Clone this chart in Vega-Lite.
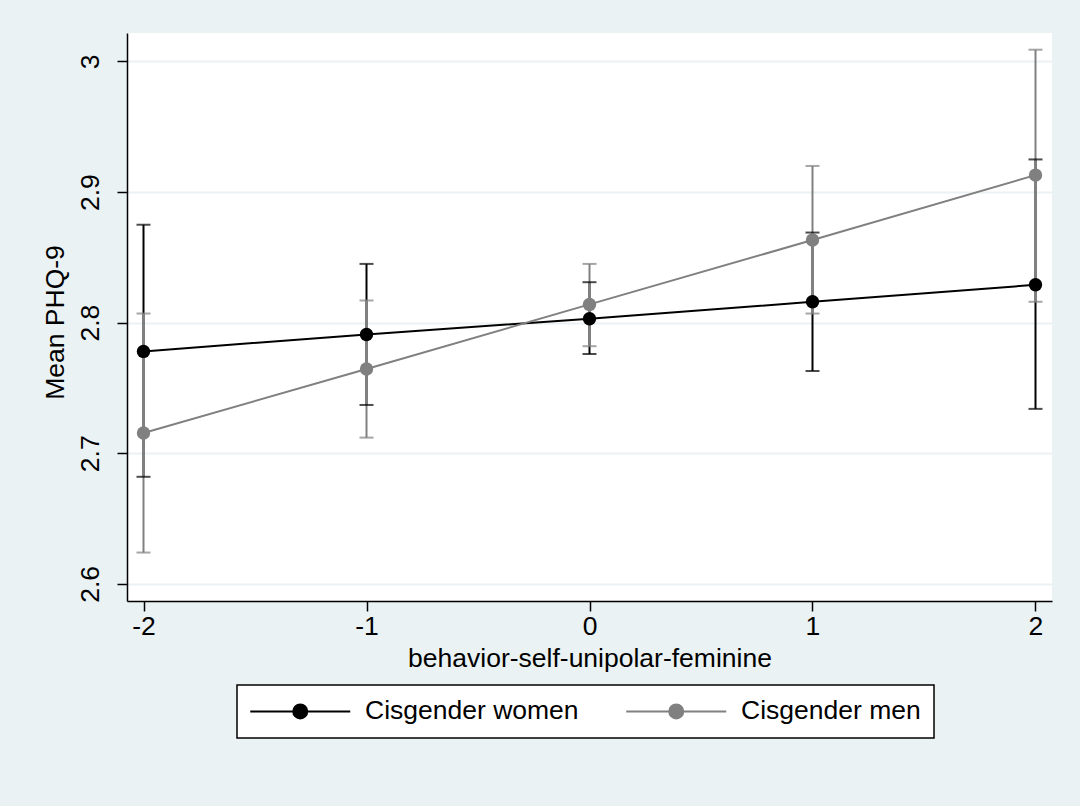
{
  "$schema": "https://vega.github.io/schema/vega-lite/v6.json",
  "width": 925,
  "height": 568,
  "autosize": {"type": "none"},
  "padding": {"left": 127, "top": 33, "right": 28, "bottom": 205},
  "background": "#EAF2F3",
  "config": {
    "view": {"fill": "white", "stroke": null},
    "font": "Liberation Sans",
    "axis": {
      "domainColor": "black",
      "domainWidth": 1.5,
      "tickColor": "black",
      "tickWidth": 1.5,
      "tickSize": 10,
      "labelColor": "black",
      "labelFont": "Liberation Sans",
      "labelFontSize": 26.5,
      "titleColor": "black",
      "titleFont": "Liberation Sans",
      "titleFontSize": 26.5,
      "titleFontWeight": "normal"
    }
  },
  "data": {
    "values": [
      {"group": "Cisgender women", "x": -2, "mean": 2.778, "lo": 2.682, "hi": 2.875},
      {"group": "Cisgender women", "x": -1, "mean": 2.791, "lo": 2.737, "hi": 2.845},
      {"group": "Cisgender women", "x": 0, "mean": 2.803, "lo": 2.776, "hi": 2.831},
      {"group": "Cisgender women", "x": 1, "mean": 2.816, "lo": 2.763, "hi": 2.869},
      {"group": "Cisgender women", "x": 2, "mean": 2.829, "lo": 2.734, "hi": 2.925},
      {"group": "Cisgender men", "x": -2, "mean": 2.7155, "lo": 2.624, "hi": 2.807},
      {"group": "Cisgender men", "x": -1, "mean": 2.7645, "lo": 2.712, "hi": 2.817},
      {"group": "Cisgender men", "x": 0, "mean": 2.814, "lo": 2.782, "hi": 2.845},
      {"group": "Cisgender men", "x": 1, "mean": 2.8633, "lo": 2.807, "hi": 2.92},
      {"group": "Cisgender men", "x": 2, "mean": 2.913, "lo": 2.816, "hi": 3.009}
    ]
  },
  "encoding": {
    "x": {
      "field": "x",
      "type": "quantitative",
      "scale": {"domain": [-2.074, 2.074], "nice": false, "zero": false},
      "axis": {
        "values": [-2, -1, 0, 1, 2],
        "labelExpr": "'' + datum.value",
        "labelPadding": 2,
        "labelFlush": false,
        "grid": false,
        "title": "behavior-self-unipolar-feminine",
        "titleX": 462.5,
        "titleY": 44.5,
        "titleAlign": "center",
        "titleBaseline": "top"
      }
    },
    "color": {
      "field": "group",
      "type": "nominal",
      "scale": {"domain": ["Cisgender women", "Cisgender men"], "range": ["#000000", "#808080"]},
      "legend": {
        "orient": "none",
        "legendX": 110,
        "legendY": 652,
        "direction": "horizontal",
        "title": null,
        "symbolType": "M-7.143,0H7.143M-1,0A1,1,0,1,1,1,0A1,1,0,1,1,-1,0Z",
        "symbolSize": 196,
        "symbolStrokeWidth": 2,
        "symbolOffset": 37,
        "labelFont": "Liberation Sans",
        "labelFontSize": 26.5,
        "labelColor": "black",
        "labelOffset": 51.5,
        "labelLimit": 400,
        "labelExpr": "datum.index == 1 ? datum.label + '\u00a0\u00a0' : datum.label",
        "columnPadding": 43,
        "padding": 13,
        "strokeColor": "black",
        "fillColor": "white",
        "encode": {
          "symbols": {"update": {"fill": {"scale": "color", "field": "value"}, "stroke": {"scale": "color", "field": "value"}}},
          "legend": {"update": {"strokeWidth": {"value": 1.5}}}
        }
      }
    }
  },
  "layer": [
    {
      "mark": {"type": "rule", "strokeWidth": 2},
      "encoding": {
        "y": {
          "field": "lo",
          "type": "quantitative",
          "scale": {"domain": [2.5869, 3.0218], "nice": false, "zero": false},
          "axis": {
            "values": [2.6, 2.7, 2.8, 2.9, 3.0],
            "format": "~g",
            "labelAngle": 270,
            "labelAlign": "center",
            "labelBaseline": "bottom",
            "labelPadding": 12.4,
            "grid": true,
            "gridColor": "#EAF2F3",
            "gridWidth": 2,
            "title": "Mean PHQ-9",
            "titleAngle": 270,
            "titleX": -57.4,
            "titleY": 289,
            "titleAlign": "center",
            "titleBaseline": "bottom"
          }
        },
        "y2": {"field": "hi"}
      }
    },
    {
      "mark": {"type": "tick", "orient": "horizontal", "size": 14, "thickness": 2},
      "encoding": {"y": {"field": "lo", "type": "quantitative"}}
    },
    {
      "mark": {"type": "tick", "orient": "horizontal", "size": 14, "thickness": 2},
      "encoding": {"y": {"field": "hi", "type": "quantitative"}}
    },
    {
      "mark": {"type": "line", "strokeWidth": 2},
      "encoding": {"y": {"field": "mean", "type": "quantitative"}}
    },
    {
      "mark": {"type": "point", "filled": true, "size": 180, "opacity": 1},
      "encoding": {"y": {"field": "mean", "type": "quantitative"}}
    }
  ]
}
